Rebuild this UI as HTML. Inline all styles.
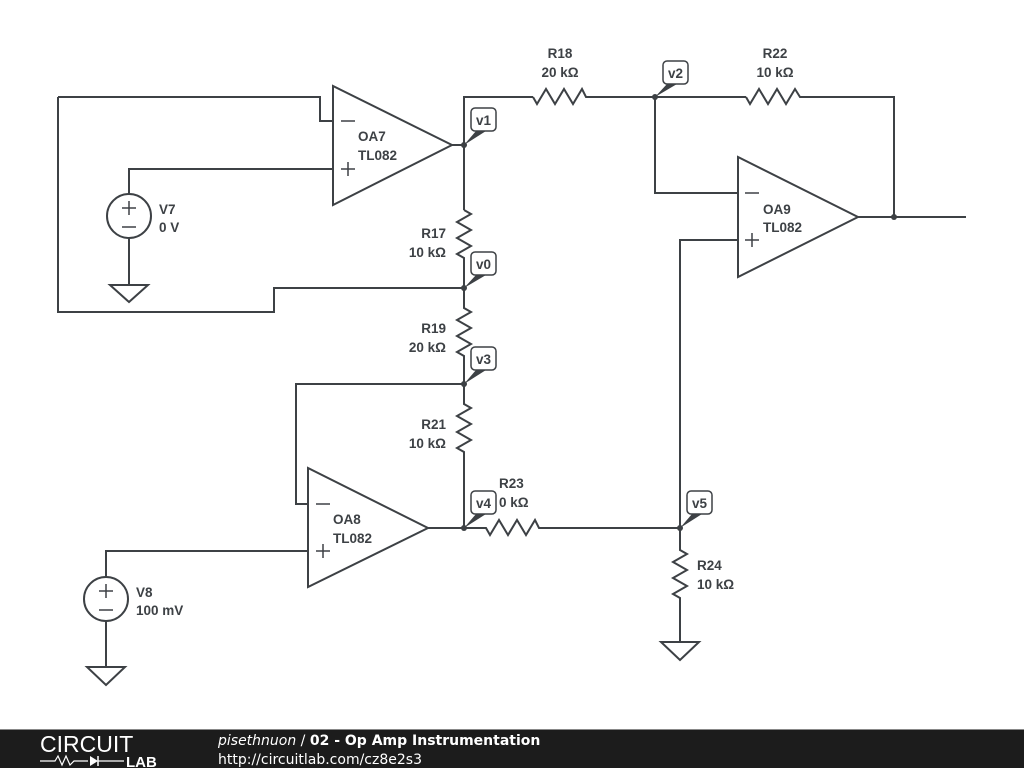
<!DOCTYPE html>
<html><head><meta charset="utf-8"><style>
html,body{margin:0;padding:0;background:#fff;}
svg{display:block;}
text{font-family:"Liberation Sans",sans-serif;font-weight:bold;font-size:13.5px;fill:#3d4145;}
</style></head><body>
<svg width="1024" height="768" viewBox="0 0 1024 768">
<g fill="none" stroke="#3d4145" stroke-width="2">
<polygon points="333,86 333,205 452,145"/>
<polyline points="58,97 320,97 320,121 333,121"/>
<polyline points="58,97 58,312 274,312 274,288 464,288"/>
<polyline points="129,194 129,169 333,169"/>
<circle cx="129" cy="216" r="22"/>
<polyline points="129,238 129,285"/>
<polygon points="110,285 148,285 129,302"/>
<line x1="452" y1="145" x2="464" y2="145"/>
<polyline points="464,210 464,97 533,97"/>
<polyline points="464,210 471,214 457,222 471,230 457,238 471,246 457,254 464,258 464,288"/>
<polyline points="533,97 537,104 546,89 555,104 564,89 573,104 582,89 586,97 655,97 746,97"/>
<polyline points="746,97 750,104 759,89 768,104 777,89 786,104 795,89 800,97 894,97 894,217"/>
<polyline points="655,97 655,193 738,193"/>
<polygon points="738,157 738,277 858,217"/>
<line x1="858" y1="217" x2="966" y2="217"/>
<polyline points="738,240 680,240 680,527"/>
<polyline points="464,288 464,308 471,312 457,320 471,328 457,336 471,344 457,352 464,356 464,384"/>
<polyline points="464,384 296,384 296,504 308,504"/>
<polyline points="464,384 464,404 471,408 457,416 471,424 457,432 471,440 457,448 464,452 464,527"/>
<polygon points="308,468 308,587 428,528"/>
<polyline points="428,528 486,528 490,535 499,520 508,535 517,520 526,535 535,520 539,528 680,528"/>
<polyline points="680,528 680,550 687,554 673,562 687,570 673,578 687,586 673,594 680,598 680,642"/>
<polygon points="661,642 699,642 680,660"/>
<polyline points="308,551 106,551 106,577"/>
<circle cx="106" cy="599" r="22"/>
<polyline points="106,621 106,667"/>
<polygon points="87,667 125,667 106,685"/>
</g>
<g stroke="#3d4145" stroke-width="1.5" fill="none">
<line x1="341" y1="121" x2="355" y2="121"/><line x1="341" y1="169" x2="355" y2="169"/><line x1="348" y1="162" x2="348" y2="176"/>
<line x1="745" y1="193" x2="759" y2="193"/><line x1="745" y1="240" x2="759" y2="240"/><line x1="752" y1="233" x2="752" y2="247"/>
<line x1="316" y1="504" x2="330" y2="504"/><line x1="316" y1="551" x2="330" y2="551"/><line x1="323" y1="544" x2="323" y2="558"/>
<line x1="122" y1="208" x2="136" y2="208"/><line x1="129" y1="201" x2="129" y2="215"/><line x1="122" y1="227" x2="136" y2="227"/>
<line x1="99" y1="591" x2="113" y2="591"/><line x1="106" y1="584" x2="106" y2="598"/><line x1="99" y1="610" x2="113" y2="610"/>
</g>
<g fill="#3d4145">
<circle cx="464" cy="145" r="3"/><circle cx="655" cy="97" r="3"/><circle cx="894" cy="217" r="3"/>
<circle cx="464" cy="288" r="3"/><circle cx="464" cy="384" r="3"/><circle cx="464" cy="528" r="3"/><circle cx="680" cy="528" r="3"/>
<polygon points="464,145 476,131 486,131"/><polygon points="655,97 667,84 677,84"/>
<polygon points="464,288 476,275 486,275"/><polygon points="464,384 476,370 486,370"/>
<polygon points="464,528 476,514 486,514"/><polygon points="680,528 692,514 702,514"/>
</g>
<g fill="#fff" stroke="#3d4145" stroke-width="1.5">
<rect x="471" y="108" width="25" height="23" rx="4"/><rect x="663" y="61" width="25" height="23" rx="4"/>
<rect x="471" y="252" width="25" height="23" rx="4"/><rect x="471" y="347" width="25" height="23" rx="4"/>
<rect x="471" y="491" width="25" height="23" rx="4"/><rect x="687" y="491" width="25" height="23" rx="4"/>
</g>
<g text-anchor="middle">
<text x="483.5" y="125">v1</text><text x="675.5" y="78">v2</text><text x="483.5" y="269">v0</text>
<text x="483.5" y="364">v3</text><text x="483.5" y="508">v4</text><text x="699.5" y="508">v5</text>
<text x="560" y="58">R18</text><text x="560" y="77">20 kΩ</text>
<text x="775" y="58">R22</text><text x="775" y="77">10 kΩ</text>
</g>
<g>
<text x="358" y="141">OA7</text><text x="358" y="160">TL082</text>
<text x="763" y="214">OA9</text><text x="763" y="232">TL082</text>
<text x="333" y="524">OA8</text><text x="333" y="543">TL082</text>
<text x="159" y="214">V7</text><text x="159" y="232">0 V</text>
<text x="136" y="597">V8</text><text x="136" y="615">100 mV</text>
<text x="697" y="570">R24</text><text x="697" y="589">10 kΩ</text>
<text x="499" y="488">R23</text><text x="499" y="507">0 kΩ</text>
</g>
<g text-anchor="end">
<text x="446" y="238">R17</text><text x="446" y="257">10 kΩ</text>
<text x="446" y="333">R19</text><text x="446" y="352">20 kΩ</text>
<text x="446" y="429">R21</text><text x="446" y="448">10 kΩ</text>
</g>
<rect x="0" y="729" width="1024" height="39" fill="#1c1c1c"/>
<line x1="0" y1="729.5" x2="1024" y2="729.5" stroke="#888" stroke-width="1"/>
<text x="40" y="752" style="font-weight:normal;font-size:23px;fill:#fff">CIRCUIT</text>
<polyline points="40,761 55,761 58,756 62,765 66,756 70,765 74,761 88,761" fill="none" stroke="#fff" stroke-width="1.2"/>
<polygon points="90,756 90,766 98,761" fill="#fff"/><line x1="98" y1="756" x2="98" y2="766" stroke="#fff" stroke-width="1.5"/>
<line x1="98" y1="761" x2="124" y2="761" stroke="#fff" stroke-width="1.2"/>
<text x="126" y="767" style="font-size:15px;fill:#fff">LAB</text>
<text x="218" y="745" style="font-family:'DejaVu Sans',sans-serif;font-size:14px;fill:#fff"><tspan style="font-style:italic;font-weight:normal">pisethnuon</tspan><tspan style="font-weight:normal"> / </tspan>02 - Op Amp Instrumentation</text>
<text x="218" y="764" style="font-family:'DejaVu Sans',sans-serif;font-weight:normal;font-size:14px;fill:#fff">http://circuitlab.com/cz8e2s3</text>
</svg>
</body></html>
